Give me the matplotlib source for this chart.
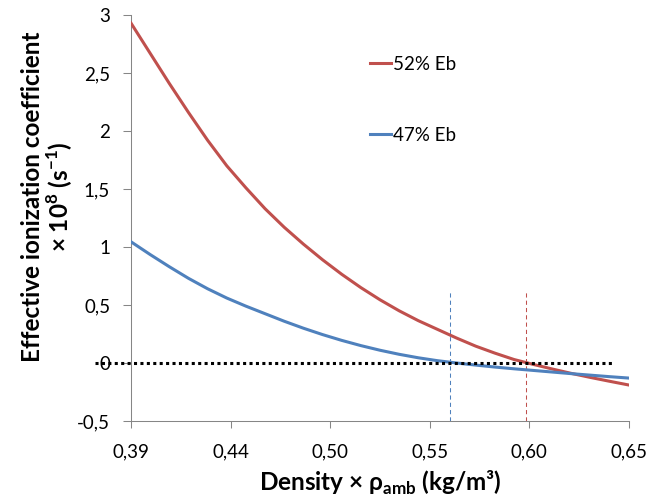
import matplotlib
matplotlib.use("Agg")
import matplotlib.pyplot as plt

plt.rcParams['font.family'] = ['Lato', 'DejaVu Sans']

# density values (kg/m3) and effective ionization coefficient (x 1e8 s^-1)
density = [0.39, 0.40, 0.41, 0.42, 0.43, 0.44, 0.45, 0.46, 0.47, 0.48,
           0.49, 0.50, 0.51, 0.52, 0.53, 0.54, 0.55, 0.56, 0.57, 0.58,
           0.59, 0.60, 0.61, 0.62, 0.63, 0.64, 0.65]
eb52 = [2.93, 2.67, 2.41, 2.16, 1.92, 1.70, 1.51, 1.33, 1.17, 1.025,
        0.89, 0.765, 0.65, 0.545, 0.45, 0.365, 0.29, 0.215, 0.145, 0.085,
        0.03, -0.012, -0.052, -0.09, -0.125, -0.158, -0.19]
eb47 = [1.045, 0.935, 0.83, 0.73, 0.64, 0.56, 0.49, 0.425, 0.36, 0.30,
        0.245, 0.195, 0.15, 0.11, 0.075, 0.045, 0.02, 0.0, -0.018, -0.035,
        -0.05, -0.064, -0.078, -0.092, -0.105, -0.118, -0.13]

# zero reference line and the two crossing points
zero_x = [0.371, 0.641]
zero_y = [0, 0]
cross47 = 0.5566
cross52 = 0.5960
marker_top = 0.61

xticks = [0.39, 0.442, 0.494, 0.546, 0.598, 0.65]
xtick_labels = ["0,39", "0,44", "0,50", "0,55", "0,60", "0,65"]
yticks = [-0.5, 0, 0.5, 1, 1.5, 2, 2.5, 3]
ytick_labels = ["-0,5", "0", "0,5", "1", "1,5", "2", "2,5", "3"]

red = "#C0504D"
blue = "#4F81BD"
grey = "#868686"

fig = plt.figure(figsize=(6.47, 4.99), dpi=100)
ax = fig.add_axes([131/647, 1-421/499, 498/647, 406/499])

ax.plot(density, eb52, color=red, lw=2.2, label="52% Eb", zorder=3)
ax.plot(density, eb47, color=blue, lw=2.2, label="47% Eb", zorder=3)
ax.plot(zero_x, zero_y, color="black", lw=2.2, linestyle=(0, (1, 1.1)),
        clip_on=False, zorder=4)
ax.plot([cross47, cross47], [-0.5, marker_top], color=blue, lw=0.75,
        linestyle=(0, (4, 3)), zorder=2)
ax.plot([cross52, cross52], [-0.5, marker_top], color=red, lw=0.75,
        linestyle=(0, (4, 3)), zorder=2)

ax.set_xlim(0.39, 0.65)
ax.set_ylim(-0.5, 3)
ax.set_xticks(xticks, xtick_labels)
ax.set_yticks(yticks, ytick_labels)

for s in ["top", "right"]:
    ax.spines[s].set_visible(False)
for s in ["left", "bottom"]:
    ax.spines[s].set_color(grey)
    ax.spines[s].set_linewidth(0.75)
ax.tick_params(axis="y", direction="out", length=6, width=0.75, color=grey,
               labelsize=13.5, pad=9)
ax.tick_params(axis="x", direction="out", length=5, width=0.75, color=grey,
               labelsize=13.5, pad=11)

ax.set_xlabel(r"Density × ρ$_{\mathregular{amb}}$ (kg/m³)", fontsize=17.5,
              fontweight="bold", labelpad=6)
fig.text(33/647, 1-197/499, "Effective ionization coefficient", rotation=90,
         fontsize=17.5, fontweight="bold", ha="center", va="center")
fig.text(60/647, 1-197/499, "× 10$^{\\mathregular{8}}$ (s$^{\\mathregular{-1}}$)",
         rotation=90, fontsize=17.5, fontweight="bold", ha="center", va="center")

ax.legend(loc="upper left", bbox_to_anchor=(0.48, 0.90), frameon=False,
          fontsize=13.5, handlelength=1.1, handletextpad=0.1,
          labelspacing=2.9, borderpad=0, borderaxespad=0)

fig.savefig("out.png", dpi=100)
